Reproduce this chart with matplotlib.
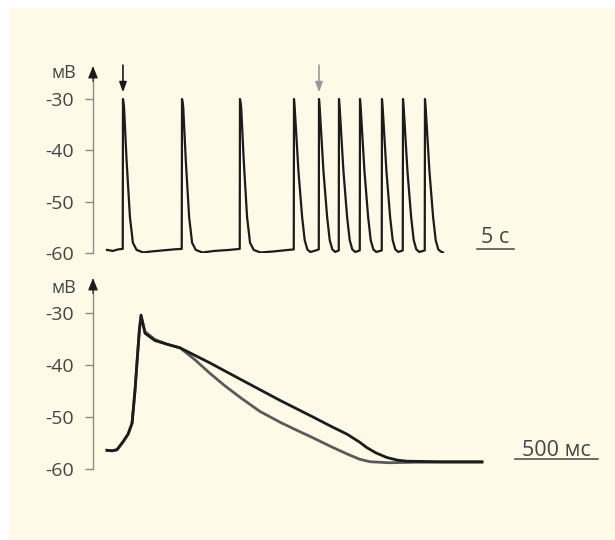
import matplotlib
matplotlib.use("Agg")
import matplotlib.pyplot as plt
from matplotlib.patches import Rectangle

plt.rcParams['font.family'] = ['Open Sans', 'DejaVu Sans']

# ---------------- data ----------------
# top panel: membrane potential (mV) vs time (s)
top_t = [0.0, 0.8, 1.5, 2.13, 2.16, 2.3, 2.65, 3.1, 3.5, 4.0, 4.9, 6.0, 7.5, 9.0, 10.1,
         10.14, 10.3, 10.65, 11.1, 11.5, 12.0, 12.9, 14.5, 16.5, 17.94,
         17.97, 18.13, 18.48, 18.93, 19.33, 19.83, 20.73, 22.5, 24.5, 25.24,
         25.27, 25.42, 25.87, 26.37, 26.72, 27.07, 27.47, 28.0, 28.62,
         28.65, 28.8, 29.25, 29.75, 30.1, 30.45, 30.85, 31.32,
         31.35, 31.5, 31.95, 32.45, 32.8, 33.15, 33.55, 34.16,
         34.19, 34.34, 34.79, 35.29, 35.64, 35.99, 36.39, 37.13,
         37.16, 37.31, 37.76, 38.26, 38.61, 38.96, 39.36, 39.97,
         40.0, 40.15, 40.6, 41.1, 41.45, 41.8, 42.2, 42.94,
         42.97, 43.12, 43.57, 44.07, 44.42, 44.77, 45.1, 45.4]
top_v = [-59.4, -59.6, -59.3, -59.2, -30.0, -31.5, -42.0, -53.0, -58.0, -59.4, -59.9, -59.7, -59.5, -59.3, -59.2,
         -30.0, -31.5, -42.0, -53.0, -58.0, -59.4, -59.9, -59.6, -59.4, -59.2,
         -30.0, -31.5, -42.0, -53.0, -58.0, -59.4, -59.9, -59.7, -59.4, -59.3,
         -30.0, -33.0, -44.0, -53.0, -57.5, -59.3, -59.8, -59.6, -59.3,
         -30.0, -33.0, -44.0, -53.0, -57.5, -59.3, -59.8, -59.5,
         -30.0, -33.0, -44.0, -53.0, -57.5, -59.3, -59.8, -59.5,
         -30.0, -33.0, -44.0, -53.0, -57.5, -59.3, -59.8, -59.5,
         -30.0, -33.0, -44.0, -53.0, -57.5, -59.3, -59.8, -59.5,
         -30.0, -33.0, -44.0, -53.0, -57.5, -59.3, -59.8, -59.5,
         -30.0, -33.0, -44.0, -53.0, -57.5, -59.3, -59.7, -59.9]
marked_spikes_t = [2.16, 28.65]          # arrows above spikes
marked_colors = ['#1a1a1a', '#999999']

# bottom panel: two action potentials, time in ms
slow_t = [0, 30, 60, 96, 127, 151, 169, 183, 195, 205, 229, 289, 361, 440,
          620, 801, 1042, 1241, 1350, 1446, 1520, 1566, 1620, 1687, 1750, 1807, 2000, 2259]
slow_v = [-56.4, -56.5, -56.3, -54.8, -53.3, -51.2, -44.8, -38.5, -33.3, -30.4, -33.9, -35.3, -36.0, -36.7,
          -39.6, -42.7, -46.8, -50.0, -51.8, -53.3, -54.8, -55.9, -56.9, -57.8, -58.3, -58.5, -58.6, -58.6]
fast_t = [0, 30, 60, 96, 127, 151, 169, 183, 195, 205, 229, 289, 361, 440,
          530, 620, 710, 801, 920, 1042, 1160, 1241, 1350, 1446, 1520, 1584, 1700, 1850, 2259]
fast_v = [-56.4, -56.5, -56.3, -54.8, -53.3, -51.2, -44.8, -38.5, -33.3, -30.6, -33.6, -35.1, -36.0, -36.7,
          -39.0, -41.6, -44.0, -46.2, -48.9, -51.0, -52.8, -54.0, -55.7, -57.1, -58.1, -58.6, -58.8, -58.7, -58.7]

yticks = [-30, -40, -50, -60]
unit_label = 'мВ'
top_scale = (50, 55, '5 с')
bottom_scale = (2458, 2958, '500 мс')

# ---------------- figure ----------------
W, H = 615, 540
fig = plt.figure(figsize=(W / 100, H / 100), dpi=100, facecolor='white')
fig.patches.append(Rectangle((9 / W, 0), 1 - 9 / W, (H - 8) / H, transform=fig.transFigure,
                             facecolor='#fffae8', edgecolor='none', zorder=-10))

axis_col = '#8a8a8a'
text_col = '#454545'


def style_axis(ax, ymax, unit_v):
    for s in ['top', 'right', 'bottom', 'left']:
        ax.spines[s].set_visible(False)
    ax.set_facecolor('none')
    ax.set_xticks([])
    ax.set_yticks(yticks)
    ax.set_yticklabels([str(v) for v in yticks])
    ax.tick_params(axis='y', length=6, width=1, color=axis_col, pad=8,
                   labelsize=14, labelcolor=text_col)
    ax.set_ylim(-60, ymax)
    ax.plot([0, 0], [-60, ymax - 1.5], transform=ax.get_yaxis_transform(),
            color=axis_col, lw=1, clip_on=False)
    ax.annotate('', xy=(0, ymax), xytext=(0, ymax - 3),
                xycoords=('axes fraction', 'data'), textcoords=('axes fraction', 'data'),
                arrowprops=dict(arrowstyle='-|>,head_length=0.75,head_width=0.3',
                                color='#1a1a1a', lw=0.8, shrinkA=0, shrinkB=0),
                annotation_clip=False)
    ax.text(-0.033, unit_v, unit_label, transform=ax.get_yaxis_transform(),
            ha='right', va='center', fontsize=13, color=text_col)


# top panel
ax1 = fig.add_axes([93 / W, (H - 253) / H, 522 / W, 187 / H])
ax1.set_xlim(-1.89, 68.65)
style_axis(ax1, -23.57, -24.9)
ax1.plot(top_t, top_v, color='#1c1c1c', lw=1.6, solid_joinstyle='round')
for t, c in zip(marked_spikes_t, marked_colors):
    ax1.annotate('', xy=(t, -28.7), xytext=(t, -23.4),
                 arrowprops=dict(arrowstyle='-|>,head_length=0.6,head_width=0.22',
                                 color=c, lw=1.2, shrinkA=0, shrinkB=0),
                 annotation_clip=False)
ax1.plot([top_scale[0], top_scale[1]], [-59.2, -59.2], color='#444444', lw=1.1)
ax1.text((top_scale[0] + top_scale[1]) / 2, -58.0, top_scale[2], ha='center', va='baseline',
         fontsize=15.5, color=text_col)

# bottom panel
ax2 = fig.add_axes([93 / W, (H - 469) / H, 522 / W, 191 / H])
ax2.set_xlim(-84.3, 3060.3)
style_axis(ax2, -23.27, -25.2)
ax2.plot(fast_t, fast_v, color='#5a5a5a', lw=2.0, solid_joinstyle='round')
ax2.plot(slow_t, slow_v, color='#1c1c1c', lw=2.0, solid_joinstyle='round')
ax2.plot([bottom_scale[0], bottom_scale[1]], [-58.1, -58.1], color='#444444', lw=1.1)
ax2.text((bottom_scale[0] + bottom_scale[1]) / 2, -57.5, bottom_scale[2], ha='center', va='baseline',
         fontsize=15.5, color=text_col)

fig.savefig('out.png', dpi=100, facecolor='white')
